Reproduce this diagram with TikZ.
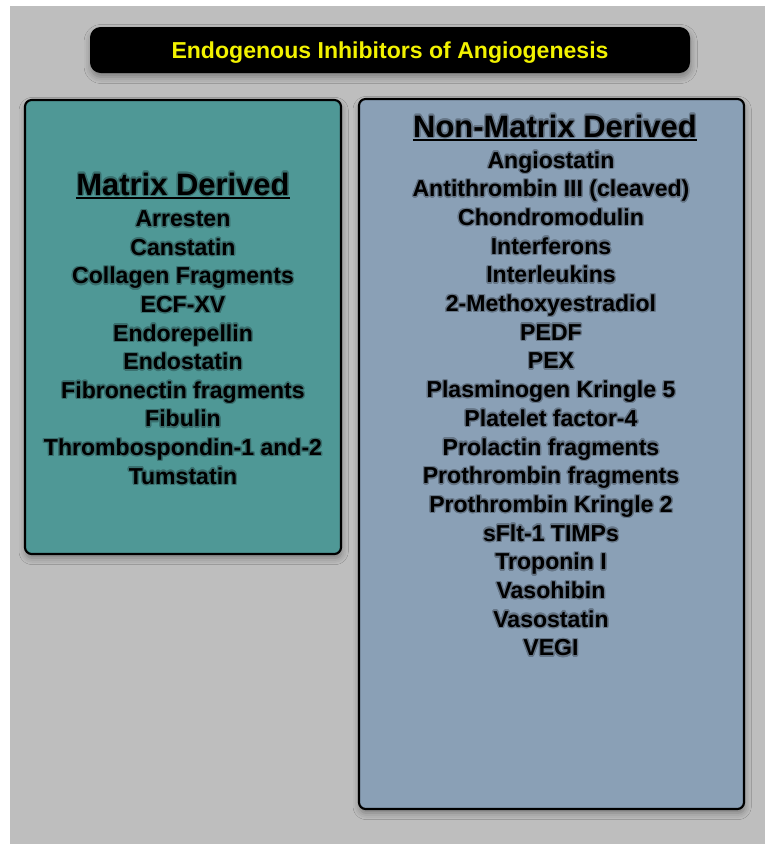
\documentclass[tikz,border=0pt]{standalone}
\usepackage{fontspec}
\setmainfont{Liberation Sans}
\usepackage{contour}
\contourlength{1pt}
\contournumber{16}
\usetikzlibrary{shadows.blur}
\definecolor{bggray}{HTML}{BEBEBE}
\definecolor{tealfill}{HTML}{4F9896}
\definecolor{bluefill}{HTML}{8AA0B6}
\definecolor{titleyellow}{HTML}{F2F200}
\colorlet{tealglow}{tealfill!74!black}
\colorlet{blueglow}{bluefill!74!black}
\tikzset{
  panel/.style={draw=black, line width=1.6pt, rounded corners=5pt,
    blur shadow={shadow xshift=0.5pt, shadow yshift=-3pt, shadow blur radius=5pt, shadow opacity=35}},
  titlebox/.style={fill=black, rounded corners=8pt,
    blur shadow={shadow xshift=0.5pt, shadow yshift=-3pt, shadow blur radius=5pt, shadow opacity=35}},
  itemtext/.style={inner sep=0pt, anchor=base, font=\fontsize{17.3pt}{20pt}\selectfont\bfseries, text=black},
  headtext/.style={inner sep=0pt, anchor=base, font=\fontsize{23.2pt}{26pt}\selectfont\bfseries, text=black},
  titletext/.style={inner sep=0pt, anchor=base, font=\fontsize{17.3pt}{20pt}\selectfont\bfseries, text=titleyellow},
  uline/.style={line width=1.4pt, black}
}
\begin{document}
\begin{tikzpicture}[x=0.75pt, y=-0.75pt]
\useasboundingbox (0,0) rectangle (765,844);
\fill[white] (0,0) rectangle (765,844);
\fill[bggray] (10,6) rectangle (765,844);
% title
\path[titlebox] (90,27) rectangle (690,73);
\node[titletext] (title) at (390,58) {Endogenous Inhibitors of Angiogenesis};
% panels
\path[panel, fill=tealfill] (25,100) rectangle (341,554);
\path[panel, fill=bluefill] (359,99) rectangle (744,809);
% left header
\node[headtext] (lhead) at (183,195) {\contour{tealglow}{Matrix Derived}};
\draw[uline] ([yshift=-2.4pt]lhead.base west) -- ([yshift=-2.4pt]lhead.base east);
\foreach \t [count=\i from 0] in {Arresten, Canstatin, Collagen Fragments, ECF-XV, Endorepellin, Endostatin, Fibronectin fragments, Fibulin, Thrombospondin-1 and-2, Tumstatin}
  \node[itemtext] (l\i) at (183,226.7+28.6*\i) {\contour{tealglow}{\t}};
% right header
\node[headtext] (rhead) at (555,137) {\contour{blueglow}{Non-Matrix Derived}};
\draw[uline] ([yshift=-2.4pt]rhead.base west) -- ([yshift=-2.4pt]rhead.base east);
\foreach \t [count=\i from 0] in {Angiostatin, Antithrombin III (cleaved), Chondromodulin, Interferons, Interleukins, 2-Methoxyestradiol, PEDF, PEX, Plasminogen Kringle 5, Platelet factor-4, Prolactin fragments, Prothrombin fragments, Prothrombin Kringle 2, sFlt-1 TIMPs, Troponin I, Vasohibin, Vasostatin, VEGI}
  \node[itemtext] (r\i) at (551,168+28.7*\i) {\contour{blueglow}{\t}};
\end{tikzpicture}
\end{document}
